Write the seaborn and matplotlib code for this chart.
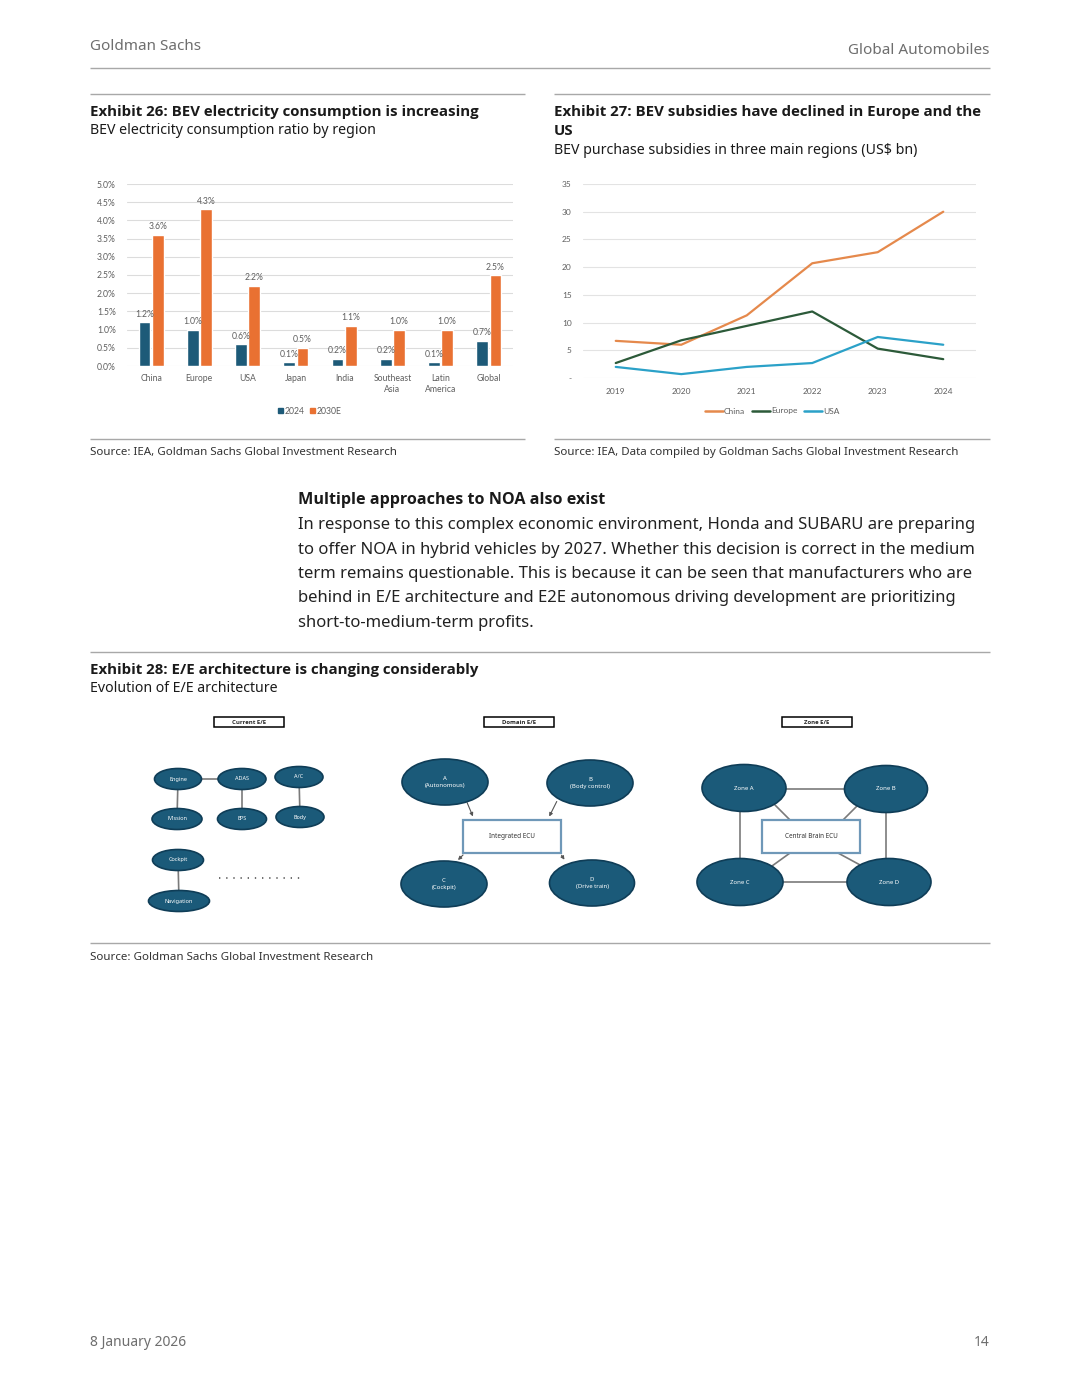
import numpy as np
import pandas as pd
import seaborn as sns
import matplotlib.pyplot as plt
from matplotlib.patches import Ellipse, Rectangle
from matplotlib.lines import Line2D
from matplotlib.ticker import FuncFormatter, MultipleLocator

# page size in pixels (dpi 100)
W, H = 1080, 1397

# Exhibit 26: BEV electricity consumption ratio by region (%)
regions = ["China", "Europe", "USA", "Japan", "India", "Southeast\nAsia", "Latin\nAmerica", "Global"]
cons_2024 = [1.2, 1.0, 0.6, 0.1, 0.2, 0.2, 0.1, 0.7]
cons_2030 = [3.6, 4.3, 2.2, 0.5, 1.1, 1.0, 1.0, 2.5]
bar_series = ["2024", "2030E"]

# Exhibit 27: BEV purchase subsidies (US$ bn)
years = [2019, 2020, 2021, 2022, 2023, 2024]
sub_china = [6.7, 6.0, 11.3, 20.7, 22.7, 30.0]
sub_europe = [2.7, 6.8, 9.4, 12.0, 5.3, 3.4]
sub_usa = [2.0, 0.7, 2.0, 2.7, 7.4, 6.0]
line_series = ["China", "Europe", "USA"]

# Exhibit 28 labels
current_nodes = ["Engine", "ADAS", "A/C", "Mission", "EPS", "Body", "Cockpit", "Navigation"]
domain_nodes = ["A\n(Autonomous)", "B\n(Body control)", "C\n(Cockpit)", "D\n(Drive train)"]
zone_nodes = ["Zone A", "Zone B", "Zone C", "Zone D"]

body_lines = [
    "In response to this complex economic environment, Honda and SUBARU are preparing",
    "to offer NOA in hybrid vehicles by 2027. Whether this decision is correct in the medium",
    "term remains questionable. This is because it can be seen that manufacturers who are",
    "behind in E/E architecture and E2E autonomous driving development are prioritizing",
    "short-to-medium-term profits.",
]

NAVY = "#1d5a78"
ORANGE = "#e97132"
GRAY_TXT = "#5f5f5f"
RULE = "#a8a8a8"
NODE = "#1b5a79"
NODE_EDGE = "#0f3d57"
BOLD_FONT = ["Open Sans", "DejaVu Sans"]
CHART_FONT = ["Lato", "DejaVu Sans"]

sns.set_theme(style="white")
plt.rcParams["font.family"] = ["Noto Sans", "DejaVu Sans"]

fig = plt.figure(figsize=(W / 100, H / 100), dpi=100)
fig.patch.set_facecolor("white")


def box(l, t, r, b):
    return [l / W, 1 - b / H, (r - l) / W, (b - t) / H]


# overlay axes in pixel coordinates for text, rules and the diagram
ax0 = fig.add_axes([0, 0, 1, 1])
ax0.set_xlim(0, W)
ax0.set_ylim(H, 0)
ax0.axis("off")


def rule(x1, x2, y, color=RULE, lw=1.0):
    ax0.plot([x1, x2], [y, y], color=color, lw=lw, solid_capstyle="butt")


def heading(x, y, s, size=10.8):
    ax0.text(x, y, s, fontsize=size, fontweight="bold", family=BOLD_FONT, color="#1a1a1a", va="center")


# header / footer
ax0.text(90, 47, "Goldman Sachs", fontsize=11, color="#6e6e6e", va="center")
ax0.text(990, 51, "Global Automobiles", fontsize=11, color="#6e6e6e", va="center", ha="right")
rule(90, 990, 68)
ax0.text(90, 1343, "8 January 2026", fontsize=10, color="#6e6e6e", va="center")
ax0.text(990, 1343, "14", fontsize=10, color="#6e6e6e", va="center", ha="right")

# exhibit headings
rule(90, 525, 94)
rule(554, 990, 94)
heading(90, 112, "Exhibit 26: BEV electricity consumption is increasing")
ax0.text(90, 130, "BEV electricity consumption ratio by region", fontsize=10.2, color="#1a1a1a", va="center")
heading(554, 112, "Exhibit 27: BEV subsidies have declined in Europe and the")
heading(554, 131, "US")
ax0.text(554, 150, "BEV purchase subsidies in three main regions (US$ bn)", fontsize=10.2,
         color="#1a1a1a", va="center")
rule(90, 525, 439)
rule(554, 990, 439)
ax0.text(90, 452, "Source: IEA, Goldman Sachs Global Investment Research", fontsize=8.3,
         color="#333333", va="center")
ax0.text(554, 452, "Source: IEA, Data compiled by Goldman Sachs Global Investment Research", fontsize=8.3,
         color="#333333", va="center")

# body text
heading(298, 500, "Multiple approaches to NOA also exist", size=11.6)
for i, line in enumerate(body_lines):
    ax0.text(298, 525 + i * 24.5, line, fontsize=12, color="#222222", va="center")

# exhibit 28 heading
rule(90, 990, 652)
heading(90, 670, "Exhibit 28: E/E architecture is changing considerably")
ax0.text(90, 688, "Evolution of E/E architecture", fontsize=10.2, color="#1a1a1a", va="center")
rule(90, 990, 943)
ax0.text(90, 957, "Source: Goldman Sachs Global Investment Research", fontsize=8.3,
         color="#333333", va="center")

# ---- Exhibit 26 bar chart ----
df_bar = pd.DataFrame({
    "region": regions * 2,
    "series": [bar_series[0]] * len(regions) + [bar_series[1]] * len(regions),
    "value": cons_2024 + cons_2030,
})
ax1 = fig.add_axes(box(127, 184, 513, 366))
sns.barplot(data=df_bar, x="region", y="value", hue="series", palette=[NAVY, ORANGE],
            width=0.54, gap=0.1, saturation=1, legend=False, ax=ax1)
ax1.set_ylim(0, 5)
ax1.set_xlim(-0.5, len(regions) - 0.5)
ax1.yaxis.set_major_locator(MultipleLocator(0.5))
ax1.yaxis.set_major_formatter(FuncFormatter(lambda v, p: f"{v:.1f}%"))
ax1.grid(axis="y", color="#dcdcdc", lw=0.8)
ax1.set_axisbelow(True)
for s in ax1.spines.values():
    s.set_visible(False)
ax1.set_xlabel("")
ax1.set_ylabel("")
ax1.tick_params(axis="both", length=0, labelsize=6.2, colors=GRAY_TXT)
ax1.tick_params(axis="y", pad=8)
ax1.tick_params(axis="x", pad=6)
for lab in ax1.get_xticklabels() + ax1.get_yticklabels():
    lab.set_fontfamily(CHART_FONT)
for cont in ax1.containers:
    ax1.bar_label(cont, fmt="{:.1f}%", padding=2.5, fontsize=6.2, color=GRAY_TXT,
                  fontfamily=CHART_FONT)
bar_handles = [Rectangle((0, 0), 1, 1, color=c) for c in [NAVY, ORANGE]]
fig.legend(bar_handles, bar_series, loc="center", bbox_to_anchor=(310 / W, 1 - 411 / H),
           ncol=2, frameon=False, handlelength=0.6, handleheight=0.6, handletextpad=0.2,
           columnspacing=0.6, prop={"size": 6.2, "family": CHART_FONT},
           labelcolor=GRAY_TXT)

# ---- Exhibit 27 line chart ----
df_line = pd.DataFrame({
    "year": years * 3,
    "region": [line_series[0]] * 6 + [line_series[1]] * 6 + [line_series[2]] * 6,
    "value": sub_china + sub_europe + sub_usa,
})
line_colors = ["#e5894c", "#2c5a39", "#2ba1c8"]
ax2 = fig.add_axes(box(583, 184, 976, 378))
sns.lineplot(data=df_line, x="year", y="value", hue="region", palette=line_colors,
             linewidth=1.6, legend=False, ax=ax2)
ax2.set_ylim(0, 35)
ax2.set_xlim(2018.5, 2024.5)
ax2.set_xticks(years)
ax2.yaxis.set_major_locator(MultipleLocator(5))
ax2.yaxis.set_major_formatter(FuncFormatter(lambda v, p: "-" if v == 0 else f"{v:.0f}"))
ax2.grid(axis="y", color="#e3e3e3", lw=0.8)
ax2.set_axisbelow(True)
for s in ax2.spines.values():
    s.set_visible(False)
ax2.set_xlabel("")
ax2.set_ylabel("")
ax2.tick_params(axis="both", length=0, labelsize=6.0, colors=GRAY_TXT)
ax2.tick_params(axis="y", pad=8)
ax2.tick_params(axis="x", pad=7)
for lab in ax2.get_xticklabels() + ax2.get_yticklabels():
    lab.set_fontfamily(CHART_FONT)
line_handles = [Line2D([0], [0], color=c, lw=1.8) for c in line_colors]
fig.legend(line_handles, line_series, loc="center", bbox_to_anchor=(772 / W, 1 - 411 / H),
           ncol=3, frameon=False, handlelength=2.2, handletextpad=0.1, columnspacing=0.8,
           prop={"size": 6.0, "family": CHART_FONT}, labelcolor=GRAY_TXT)

# ---- Exhibit 28 diagram ----
CONN = "#7a7a7a"


def node(x, y, w, h, label, fs=4.3):
    ax0.add_patch(Ellipse((x, y), w, h, facecolor=NODE, edgecolor=NODE_EDGE, lw=1.2, zorder=3))
    ax0.text(x, y, label, ha="center", va="center", color="white", fontsize=fs, zorder=4,
             linespacing=1.3)


def title_box(xc, y, label):
    ax0.add_patch(Rectangle((xc - 35, y - 5), 70, 10, facecolor="white", edgecolor="black",
                            lw=1.1, zorder=3))
    ax0.text(xc, y, label, ha="center", va="center", fontsize=4.3, fontweight="bold",
             family=BOLD_FONT, zorder=4)


def ecu_box(l, t, r, b, label):
    ax0.add_patch(Rectangle((l, t), r - l, b - t, facecolor="white", edgecolor="#6f98b8",
                            lw=1.6, zorder=3))
    ax0.text((l + r) / 2, (t + b) / 2, label, ha="center", va="center", fontsize=4.6,
             color="#333333", zorder=4)


def conn(x1, y1, x2, y2):
    ax0.plot([x1, x2], [y1, y2], color=CONN, lw=1.2, zorder=2)


def arrow(x1, y1, x2, y2):
    ax0.annotate("", xy=(x2, y2), xytext=(x1, y1), zorder=2,
                 arrowprops=dict(arrowstyle="-|>", color="#555555", lw=0.8, mutation_scale=5))


# current E/E
title_box(249, 722, "Current E/E")
cur_pos = [(178, 779), (242, 779), (299, 777), (177, 819), (242, 819), (300, 817), (178, 860), (179, 901)]
cur_w = [47, 48, 48, 50, 49, 48, 51, 61]
conn(178, 779, 242, 779)
conn(178, 779, 177, 819)
conn(242, 779, 242, 819)
conn(299, 777, 300, 817)
conn(178, 860, 179, 901)
for (x, y), w, lab in zip(cur_pos, cur_w, current_nodes):
    node(x, y, w, 21, lab, fs=4.0)
ax0.plot([219, 305], [878, 878], color="#555555", lw=1.2, linestyle=(0, (0.8, 3.5)))

# domain E/E
title_box(519, 722, "Domain E/E")
ecu_box(463, 820, 561, 853, "Integrated ECU")
arrow(466, 800, 474, 819)
arrow(558, 799, 548, 819)
arrow(465, 853, 456, 862)
arrow(560, 853, 566, 862)
dom_pos = [(445, 782), (590, 783), (444, 884), (592, 883)]
dom_w = [86, 86, 86, 85]
for (x, y), w, lab in zip(dom_pos, dom_w, domain_nodes):
    node(x, y, w, 46, lab)

# zone E/E
title_box(817, 722, "Zone E/E")
ecu_box(762, 820, 860, 853, "Central Brain ECU")
conn(744, 789, 886, 789)
conn(740, 882, 889, 882)
conn(740, 789, 740, 882)
conn(886, 789, 886, 882)
conn(775, 805, 790, 820)
conn(857, 806, 843, 820)
conn(772, 866, 790, 853)
conn(862, 866, 838, 853)
zone_pos = [(744, 788), (886, 789), (740, 882), (889, 882)]
zone_w = [84, 83, 86, 84]
for (x, y), w, lab in zip(zone_pos, zone_w, zone_nodes):
    node(x, y, w, 47, lab)

fig.savefig("out.png", dpi=100, facecolor="white")
